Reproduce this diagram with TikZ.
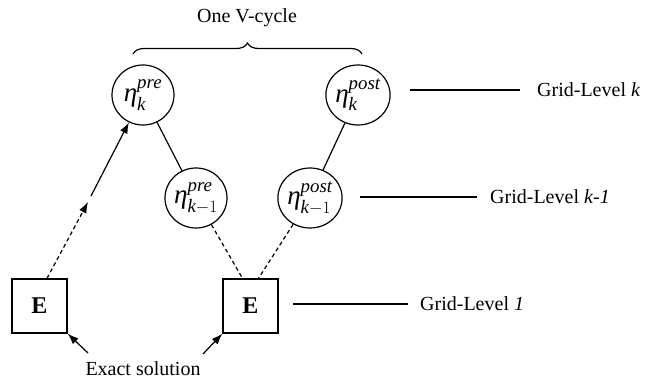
\documentclass[tikz,border=0pt]{standalone}
\usepackage{amsmath}
\usepackage{fontspec}
\setmainfont{Liberation Serif}
\usetikzlibrary{arrows.meta,shapes.geometric,decorations.pathreplacing,calc}
\newcommand{\myeta}[2]{$\text{\itshape η}^{\text{\itshape #1}}_{#2}$}
\begin{document}
\begin{tikzpicture}[x=1pt,y=-1pt,
  lvl/.style={ellipse, draw, line width=1.2pt, minimum width=62pt, minimum height=60pt, inner sep=0pt, font=\fontsize{27}{31}\selectfont},
  ebox/.style={rectangle, draw, line width=1.3pt, minimum width=55pt, minimum height=54pt, font=\fontsize{24}{28}\selectfont\bfseries},
  lab/.style={font=\fontsize{20}{24}\selectfont, anchor=west, inner sep=0pt},
  txt/.style={font=\fontsize{20}{24}\selectfont, inner sep=0pt},
  ln/.style={line width=1.2pt},
  arr/.style={line width=1.2pt, -{Latex[length=11pt,width=8pt]}},
  dsh/.style={dash pattern=on 4pt off 3pt}]
\useasboundingbox (0,0) rectangle (650,380);

% level nodes
\node[lvl] (A) at (143,95) {\myeta{pre}{\text{\itshape k}}};
\node[lvl] (B) at (358,95) {\myeta{post}{\text{\itshape k}}};
\node[lvl] (C) at (196,198) {\myeta{pre}{\text{\itshape k}-1}};
\node[lvl] (D) at (310,198) {\myeta{post}{\text{\itshape k}-1}};
\node[ebox] (E1) at (39.5,306) {E};
\node[ebox] (E2) at (250.5,306) {E};

% title and brace
\node[txt] (T) at (247,18) {One V-cycle};
\coordinate (b1) at (133,54);
\coordinate (b2) at (362,54);
\draw[ln, decorate, decoration={brace, amplitude=11pt}] (b1) -- (b2);

% grid level labels
\node[lab] (LK) at (537,90) {Grid-Level \textit{k}};
\node[lab] (LK1) at (490,197) {Grid-Level \textit{k}-\textit{1}};
\node[lab] (L1) at (420,304) {Grid-Level \textit{1}};
\coordinate (lk) at (410,90);
\coordinate (lk1) at (360,197);
\coordinate (l1) at (293,304);
\draw[ln, shorten >=17pt] (lk) -- (LK.west);
\draw[ln, shorten >=13pt] (lk1) -- (LK1.west);
\draw[ln, shorten >=12pt] (l1) -- (L1.west);

% V-cycle connectors
\draw[ln] (A) -- (C);
\draw[ln] (B) -- (D);
\coordinate (e2l) at ($(E2.north)+(-8,0)$);
\coordinate (e2r) at ($(E2.north)+(8,0)$);
\draw[ln, dsh] (C) -- (e2l);
\draw[ln, dsh] (D) -- (e2r);

% left ascending path
\coordinate (s1) at ($(E1.north)+(7.5,0)$);
\coordinate (m1) at (88,202);
\coordinate (m2) at (91,196);
\draw[arr, dsh] (s1) -- (m1);
\draw[arr] (m2) -- (A);

% exact solution
\node[txt] (X) at (143,369) {Exact solution};
\coordinate (x1) at (88,353);
\coordinate (x2) at (203,354);
\draw[arr] (x1) -- (E1.south east);
\draw[arr] (x2) -- (E2.south west);
\end{tikzpicture}
\end{document}
